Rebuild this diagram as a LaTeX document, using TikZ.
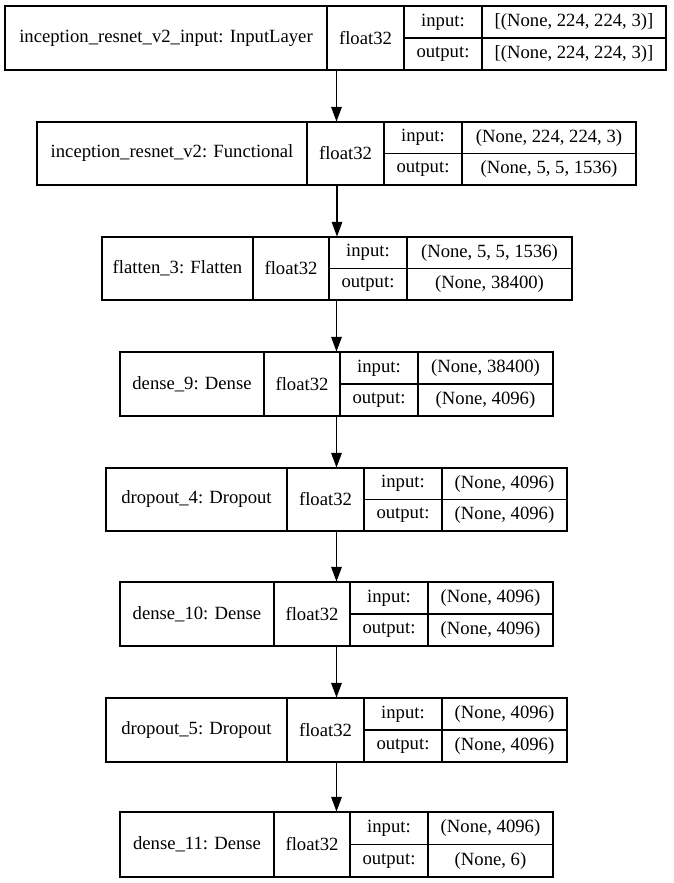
\documentclass[tikz,border=0pt]{standalone}
\usepackage{fontspec}
\setmainfont{Liberation Serif}
\newfontfamily\recfont{Liberation Serif}
\usepackage{tikz}
\usetikzlibrary{arrows.meta}

% one cell of a layer record: name, x1, y1, x2, y2 (px), text
\newcommand\cellnode[6]{%
  \pgfmathsetmacro\cw{(#4-#2)*0.75}\pgfmathsetmacro\ch{(#5-#3)*0.75}%
  \node[cell,minimum width=\cw pt,minimum height=\ch pt] (#1)
    at ({(#2+#4)/2},{(#3+#5)/2}) {#6};}

\begin{document}
\begin{tikzpicture}[x=0.75pt,y=-0.75pt,font=\recfont\fontsize{14}{16}\selectfont,
      cell/.style={draw,line width=0.8pt,inner sep=0pt},
      arr/.style={-{Triangle[length=11pt,width=8pt]},line width=0.8pt}]
    \useasboundingbox (0,0) rectangle (674,883);
    \foreach \ty/\by/\xl/\xa/\xb/\xc/\xr/\nm/\vi/\vo [count=\k] in {
      6/70/5/327/404/482/666/{inception\_resnet\_v2\_input: InputLayer}/{[(None, 224, 224, 3)]}/{[(None, 224, 224, 3)]},
      122/185/37/307/384/462/636/{inception\_resnet\_v2: Functional}/{(None, 224, 224, 3)}/{(None, 5, 5, 1536)},
      237/300/102/253/329/407/572/{flatten\_3: Flatten}/{(None, 5, 5, 1536)}/{(None, 38400)},
      352/416/120/264/340/418/553/{dense\_9: Dense}/{(None, 38400)}/{(None, 4096)},
      468/531/106/287/364/442/567/{dropout\_4: Dropout}/{(None, 4096)}/{(None, 4096)},
      582/646/120/274/350/428/553/{dense\_10: Dense}/{(None, 4096)}/{(None, 4096)},
      698/762/106/287/364/442/567/{dropout\_5: Dropout}/{(None, 4096)}/{(None, 4096)},
      812/877/120/274/350/428/553/{dense\_11: Dense}/{(None, 4096)}/{(None, 6)}} {
      \pgfmathsetmacro\my{(\ty+\by)/2}
      \cellnode{L\k}{\xl}{\ty}{\xr}{\by}{}
      \cellnode{n\k}{\xl}{\ty}{\xa}{\by}{\nm}
      \cellnode{f\k}{\xa}{\ty}{\xb}{\by}{float32}
      \cellnode{i\k}{\xb}{\ty}{\xc}{\my}{input:}
      \cellnode{iv\k}{\xc}{\ty}{\xr}{\my}{\vi}
      \cellnode{o\k}{\xb}{\my}{\xc}{\by}{output:}
      \cellnode{ov\k}{\xc}{\my}{\xr}{\by}{\vo}
    }
    \foreach \k [evaluate=\k as \j using int(\k+1)] in {1,...,7}
      \draw[arr] (L\j.north |- L\k.south) -- (L\j.north);
  \end{tikzpicture}
\end{document}
